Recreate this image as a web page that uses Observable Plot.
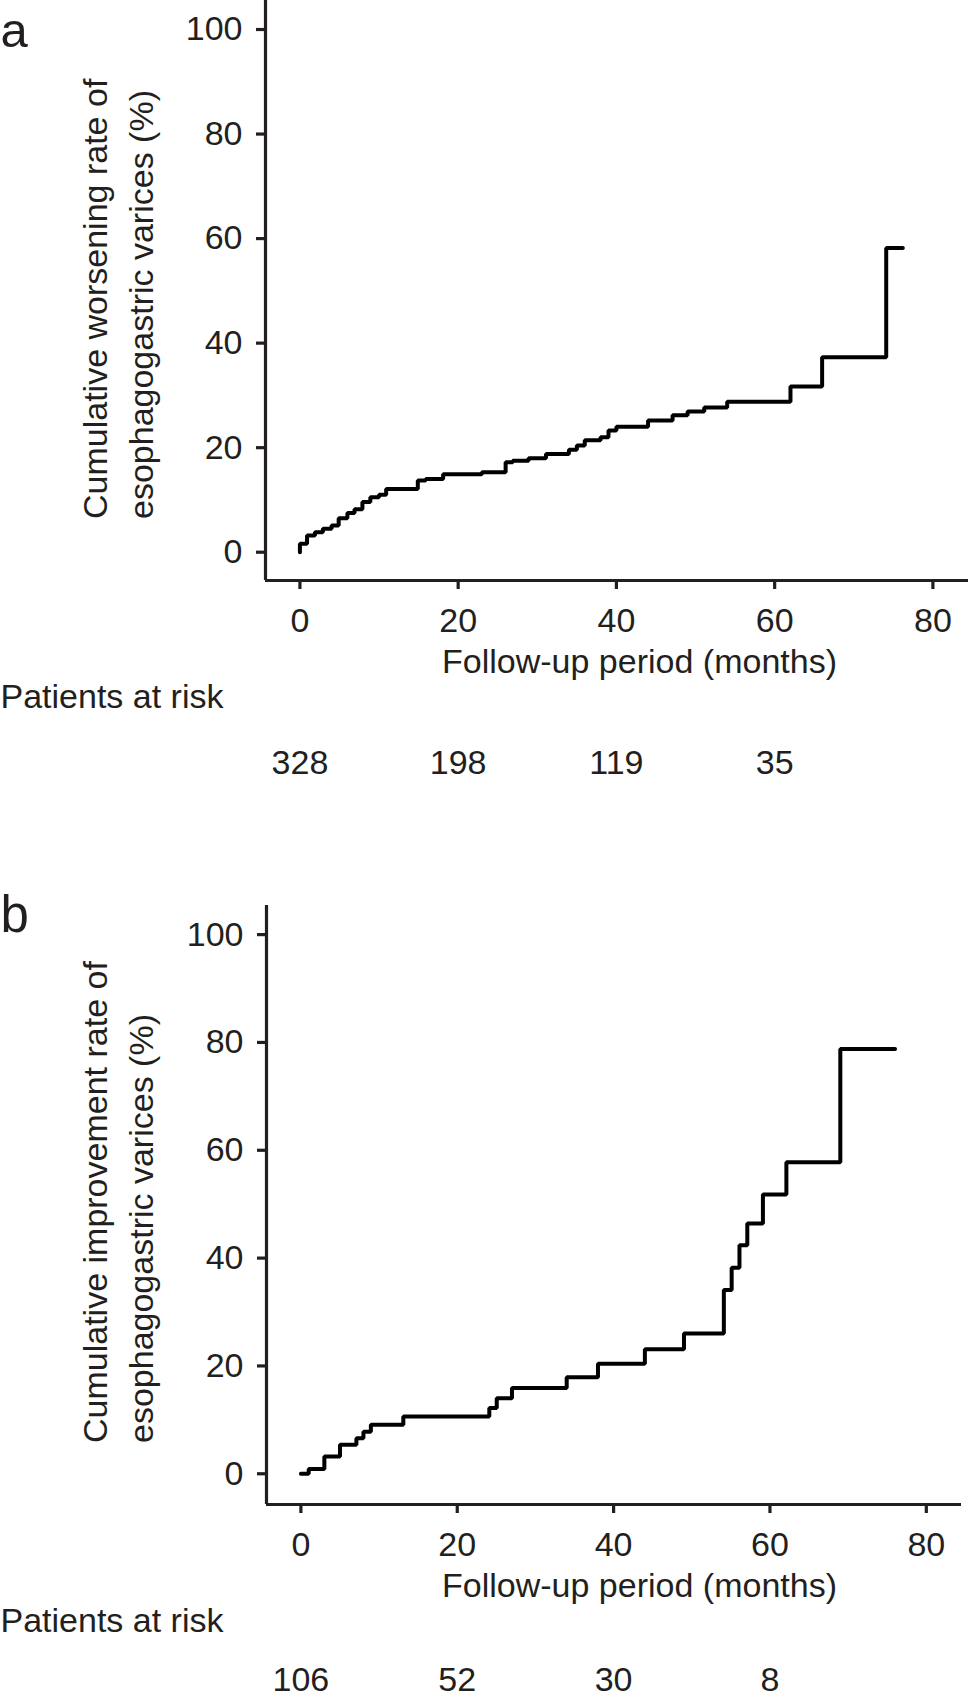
<!DOCTYPE html>
<html>
<head>
<meta charset="utf-8">
<script src="https://cdn.jsdelivr.net/npm/d3@7"></script>
<script src="https://cdn.jsdelivr.net/npm/@observablehq/plot@0.6"></script>
<style>
  html, body { margin: 0; padding: 0; background: #fff; overflow: hidden; }
  #chart svg { display: block; }
</style>
</head>
<body>
<div id="chart"></div>
<script>
// ---- data ----
const monthTicks = [0, 20, 40, 60, 80];
const pctTicks = [0, 20, 40, 60, 80, 100];

// Panel a: cumulative worsening rate (Kaplan-Meier steps)
const worseMonths = [0, 0, 0.9, 1.9, 2.9, 4.0, 4.9, 6.0, 6.9, 7.9, 8.9, 10.0, 10.9, 14.9, 15.9, 18.1, 23.0, 26.0, 26.9, 28.9, 31.1, 34.0, 35.0, 36.0, 38.0, 39.0, 40.0, 44.0, 47.1, 49.0, 51.1, 54.0, 62.0, 66.0, 74.1, 76.2];
const worseRate   = [0, 1.6, 3.2, 3.8, 4.5, 5.1, 6.5, 7.5, 8.2, 9.6, 10.5, 11.0, 12.1, 13.7, 14.0, 14.9, 15.3, 17.2, 17.5, 18.0, 18.8, 19.6, 20.4, 21.4, 22.0, 23.3, 24.0, 25.2, 26.2, 26.9, 27.7, 28.8, 31.7, 37.3, 58.2, 58.2];

// Panel b: cumulative improvement rate
const improveMonths = [0, 1.0, 3.0, 5.0, 7.1, 8.0, 8.95, 13.1, 24.1, 25.05, 27.0, 34.0, 38.0, 44.0, 49.0, 54.1, 55.1, 56.1, 57.1, 59.1, 62.1, 69.0, 76.0];
const improveRate   = [0, 0.9, 3.2, 5.4, 6.6, 7.8, 9.1, 10.6, 12.2, 14.0, 15.9, 17.9, 20.4, 23.1, 26.0, 34.1, 38.2, 42.4, 46.4, 51.8, 57.8, 78.8, 78.8];

// Patients at risk
const riskMonths = [0, 20, 40, 60];
const riskWorse = [328, 198, 119, 35];
const riskImprove = [106, 52, 30, 8];

// Texts
const xLabel = "Follow-up period (months)";
const riskLabel = "Patients at risk";
const yLabelA = "Cumulative worsening rate of\nesophagogastric varices (%)";
const yLabelB = "Cumulative improvement rate of\nesophagogastric varices (%)";

// ---- drawing ----
const ink = "#231f20";
const font = "'Liberation Sans', Arial, Helvetica, sans-serif";

function panel(o) {
  const data = o.months.map((m, i) => ({month: m, rate: o.rate[i]}));
  const riskData = riskMonths.map((m, i) => ({month: m, n: o.risk[i]}));
  const [x0] = o.xDomain;
  const [y0] = o.yDomain;
  const frameCenter = (o.marginLeft + (968 - o.marginRight)) / 2;
  return Plot.plot({
    width: 968,
    height: o.height,
    marginTop: o.marginTop,
    marginBottom: o.marginBottom,
    marginLeft: o.marginLeft,
    marginRight: o.marginRight,
    style: {fontFamily: font, fontSize: "34px", color: ink, background: "#fff", overflow: "visible"},
    x: {domain: o.xDomain},
    y: {domain: o.yDomain},
    marks: [
      Plot.ruleX([x0], {stroke: ink, strokeWidth: 3.2}),
      Plot.ruleY([y0], {stroke: ink, strokeWidth: 3.2}),
      Plot.axisY(pctTicks, {tickSize: 9, tickPadding: 14, strokeWidth: 3.2, label: null, tickFormat: d => String(d), fill: ink, stroke: ink}),
      Plot.axisX(monthTicks, {tickSize: 9, tickPadding: 18, strokeWidth: 3.2, label: null, tickFormat: d => String(d), fill: ink, stroke: ink}),
      Plot.line(data, {x: "month", y: "rate", curve: "step-after", stroke: "#000", strokeWidth: 4, strokeLinejoin: "miter"}),
      Plot.text([xLabel], {frameAnchor: "bottom", dx: 639 - frameCenter, dy: 92, lineAnchor: "bottom", fill: ink}),
      Plot.text([o.ylab], {frameAnchor: "bottom-left", rotate: -90, textAnchor: "start", lineAnchor: "top", lineHeight: 1.353, dx: 74.3 - o.marginLeft, dy: -61.5, fill: ink}),
      Plot.text([riskLabel], {frameAnchor: "bottom-left", textAnchor: "start", lineAnchor: "bottom", dx: -o.marginLeft, dy: 127, fill: ink}),
      Plot.text(riskData, {x: "month", y: () => y0, text: d => String(d.n), lineAnchor: "bottom", dy: o.riskDy, fill: ink}),
      Plot.text([o.letter], {frameAnchor: "top-left", textAnchor: "start", lineAnchor: "bottom", dx: -o.marginLeft, dy: o.letterDy, fontSize: o.letterSize, fill: ink})
    ]
  });
}

const chart = document.getElementById("chart");
chart.append(panel({
  letter: "a", months: worseMonths, rate: worseRate, risk: riskWorse, ylab: yLabelA,
  height: 800, marginTop: 0, marginBottom: 220, marginLeft: 265, marginRight: 0,
  xDomain: [-4.35, 84.5], yDomain: [-5.41, 105.55], letterDy: 46, letterSize: 49, riskDy: 193
}));
chart.append(panel({
  letter: "b", months: improveMonths, rate: improveRate, risk: riskImprove, ylab: yLabelB,
  height: 898, marginTop: 105, marginBottom: 194, marginLeft: 266, marginRight: 7,
  xDomain: [-4.4, 84.5], yDomain: [-5.7, 105.4], letterDy: 26.7, letterSize: 51, riskDy: 186
}));
</script>
</body>
</html>
